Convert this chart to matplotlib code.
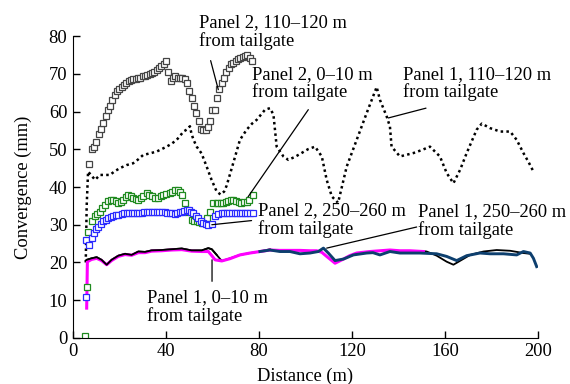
import numpy as np
import matplotlib
matplotlib.use('Agg')
import matplotlib.pyplot as plt

plt.rcParams['font.family'] = ['Liberation Serif', 'DejaVu Serif']
plt.rcParams['font.size'] = 13

# Panel 2, 110-120 m (grey squares)
p2_110_x = [6.9, 8, 9, 10, 11, 12, 13, 14, 15, 16, 17, 18, 19, 20, 21, 22, 23, 24, 25, 26,
            27, 28, 29, 30, 31, 32, 33, 34, 35, 36, 37, 38, 39, 40, 41, 42, 43, 44, 45, 46,
            47, 48, 49, 50, 51, 52, 53, 54, 55, 56, 57, 58, 59, 60, 61, 62, 63, 64, 65, 66,
            67, 68, 69, 70, 71, 72, 73, 74, 75, 76, 77]
p2_110_y = [46, 50, 50.5, 52, 54, 55.5, 57, 58.8, 60.5, 61.5, 63, 64.5, 65.5, 66, 66.5, 67, 67.5, 68, 68.3, 68.5,
            68.7, 69, 69, 69.3, 69.5, 69.8, 70, 70.3, 70.6, 71, 71.5, 72, 72.5, 73.5, 70.5, 68, 69, 69.3, 69, 69,
            68.8, 68.5, 67.5, 65.5, 63.5, 61.5, 59.5, 57.5, 55.5, 55, 55, 56, 57.5, 60.5, 60.3, 63.5, 66, 67.5, 69, 70.5,
            71.5, 72.5, 73, 73.5, 74, 74.3, 74.5, 74.7, 75, 74.3, 73.5]

# Panel 2, 0-10 m (green squares)
p2_0_x = [5.2, 5.9, 6.6, 8, 9.5, 10.5, 11.6, 12.7, 13.8, 15.2, 16.2, 17.3, 18.4, 19.5, 20.5, 21.6, 22.7, 23.8,
          24.9, 25.9, 27, 28.1, 29.2, 30.2, 31.7, 32.8, 33.8, 35.2, 36.7, 37.8, 38.8, 40.2, 41.7, 42.8, 43.9,
          45, 46, 47, 48.2, 49.6, 51, 52.1, 53.2, 54.2, 55.3, 56.4, 57.5, 58.9, 60.4, 61.8, 62.5, 63.6, 64.6,
          65.7, 66.8, 67.9, 69, 70.1, 71.2, 72.3, 73.4, 74.7, 75.8, 77.5]
p2_0_y = [0.6, 13.6, 28, 30.9, 32.2, 32.8, 33.5, 34.5, 35.3, 36.2, 36.5, 36.6, 36.2, 35.7, 36, 36.6, 37.3, 37.9,
          37.5, 37.1, 36.8, 36.6, 37.1, 37.7, 38.5, 38, 37.5, 37.2, 37.1, 37.5, 37.9, 38.1, 38.4, 38.8, 39.3,
          39.1, 38.8, 37.9, 35.7, 33.5, 31.3, 31, 30.9, 30.6, 30.4, 30.8, 31.7, 33.5, 35.7, 35.7, 35.7, 35.7, 35.7,
          36, 36.3, 36.5, 36.6, 36.3, 36, 35.8, 35.9, 35.9, 36.5, 37.9]

# Panel 2, 250-260 m (blue squares)
p2_250_x = [5.5, 5.6, 7, 8, 9, 10, 10.9, 12, 13, 14.1, 15.2, 16.2, 17.3, 18.4, 19.5, 20.9, 22, 23.1, 24.2,
            25.3, 26.3, 27.4, 28.4, 29.5, 30.6, 31.7, 32.8, 33.9, 35, 36.1, 37.2, 38.3, 39.4, 40.5, 41.6,
            42.7, 43.9, 44.9, 45.9, 46.7, 47.9, 49, 49.8, 50.9, 51.8, 52.9, 53.9, 54.9, 56, 57, 58.2, 59.7,
            61.1, 62.5, 64, 65.1, 66.2, 67.3, 68.4, 69.5, 70.6, 71.7, 72.8, 73.9, 75, 76.2, 77.5]
p2_250_y = [10.8, 26, 24.5, 26.5, 27.8, 29, 29.5, 30.2, 30.9, 31.3, 31.7, 32, 32.2, 32.5, 32.7, 32.9, 33, 33, 33.1,
            33.1, 33.2, 33.2, 33.2, 33.2, 33.3, 33.3, 33.4, 33.4, 33.5, 33.5, 33.5, 33.4, 33.3, 33.2, 33.2,
            33, 32.9, 33.2, 33.4, 33.5, 33.7, 33.8, 33.8, 33.5, 33.1, 32.4, 31.7, 31, 30.4, 30.1, 30, 30.1,
            32.2, 32.8, 33.1, 33.1, 33.2, 33.2, 33.1, 33.1, 33.1, 33.1, 33.1, 33.1, 33.1, 33.1, 33.1]

# Panel 1, 110-120 m (dotted black)
p1_110_x = [5.5, 5.9, 6.5, 8, 9.5, 11.6, 13.8, 15.9, 18, 20.2, 23, 25.9, 28, 30.2, 33, 36, 38, 40.3, 42.5,
            44.6, 46, 47.5, 48.9, 50.3, 51, 52, 53.2, 55.3, 57.5, 59.6, 61.8, 63.5, 65, 66.1, 68.9, 71.8, 74.7,
            77, 79, 82.6, 84.7, 86.2, 87.6, 90.5, 92.6, 95.5, 98.3, 101, 104.1, 107, 109.1, 111.3, 114,
            117.7, 122, 126.3, 130.6, 132, 134.9, 136.3, 137, 140.6, 146.4, 150, 153.5, 157.8, 160.7, 163.6,
            166.5, 169.3, 173.6, 175.8, 179.4, 183.7, 188, 190.8, 193.7, 196, 198]
p1_110_y = [20, 35, 44.1, 43, 41.9, 43.2, 43.2, 43.2, 44.2, 45, 45.8, 46.3, 47.3, 48.5, 48.9, 49.4, 50, 50.7, 51.5,
            52.5, 53.5, 54.7, 55.2, 56.1, 54, 52.3, 50.7, 48.9, 45.4, 41.9, 38.8, 38, 38.8, 40.4, 46.3, 52.5, 55.2,
            56.8, 57.8, 60.5, 60.9, 59.2, 50.7, 48.1, 47.2, 48, 49, 50, 50.7, 48.1, 41.9, 37.5, 35.8,
            45.4, 52.5, 59.6, 66.5, 63.1, 58.7, 56, 50.7, 48.1, 49, 49.8, 50.7, 48.1, 43.7, 41,
            44.6, 49, 55.2, 56.8, 55.6, 54.7, 54.7, 52.5, 49, 46.5, 44.1]

# Panel 1, 0-10 m (magenta line)
p1_0_x = [5.9, 6.2, 8, 10.2, 12.3, 14.5, 16.6, 19.5, 22.4, 25.2, 28.1, 31, 33.8, 38.1, 42.4, 46.8, 51, 55.4,
          58.2, 59.7, 61.1, 64, 67.5, 71.8, 76.1, 80.4, 84.7, 89, 93.3, 97.6, 101.9, 104.8, 107, 109.1, 112.7,
          116.3, 119, 122, 127.7, 132, 136.3, 140.6, 145, 150.7]
p1_0_y = [7.9, 20.2, 20.8, 21.1, 20.5, 19.4, 20.5, 21.6, 22.1, 21.9, 22.6, 22.6, 23, 23.1, 23.3, 23.4, 23, 22.9,
          22.9, 21.8, 20.7, 20.4, 21, 22, 22.5, 22.9, 23.3, 23.2, 23.2, 23.2, 23.1, 23.1, 22.7, 21.6, 19.8,
          20.9, 21.8, 22.5, 22.9, 23.1, 23.3, 23.1, 23.1, 22.9]

# black solid line (two visible stretches)
blk_x = [5.9, 8, 10.2, 12.3, 14.5, 16.6, 19.5, 22.4, 25.2, 28.1, 31, 33.8, 38.1, 42.4, 46.8, 51, 55.4, 58.2,
         59.7, 61.8, 64, 67.5, 71.8, 76.1, 80.4, 84.7, np.nan,
         150.7, 152.1, 156.4, 160.7, 163.6, 167.2, 170.8, 176.5, 182.2, 188, 193.7, 196.6]
blk_y = [20.7, 21.1, 21.4, 20.7, 19.4, 20.7, 21.8, 22.3, 22, 22.9, 22.8, 23.2, 23.3, 23.5, 23.7, 23.2, 23.2, 23.8,
         23.5, 22, 20.4, 21.1, 22, 22.5, 22.9, 23.5, np.nan,
         23, 22.9, 21.8, 20.2, 19.4, 20.7, 22, 22.9, 23.3, 23.1, 22.5, 22.3]

# Panel 1, 250-260 m (navy line)
p1_250_x = [80.4, 84.7, 89, 93.3, 97.6, 101.9, 105.5, 107.7, 109.8, 112.7, 116.3, 120.6, 126.3, 129, 132,
            136.3, 140.6, 145, 149.2, 156.4, 160.7, 165, 169.3, 175, 179.4, 185.1, 190.8, 193.7, 196.6, 198,
            199.4]
p1_250_y = [22.9, 23.3, 22.9, 22.9, 22.3, 22.5, 22.9, 23.8, 22.5, 20.5, 20.9, 22, 22.5, 22.6, 22, 22.9, 22.5,
            22.5, 22.5, 22.3, 21.6, 20.5, 21.8, 22.5, 22.3, 22.3, 22, 22.9, 22.5, 21.1, 18.9]

fig = plt.figure(figsize=(5.7, 3.84), dpi=100)
ax = fig.add_axes([0.128, 0.120, 0.816, 0.786])

ax.plot(p1_110_x, p1_110_y, color='black', lw=1.8, ls=(0, (1, 1.3)))
ax.plot(blk_x, blk_y, color='black', lw=1.3)
ax.plot(p1_0_x, p1_0_y, color='#ff00ff', lw=2.2)
ax.plot(blk_x[:20], blk_y[:20], color='black', lw=1.3)
ax.plot(p1_250_x, p1_250_y, color='#0d3f6e', lw=2.1)
ax.plot(p2_110_x, p2_110_y, ls='none', marker='s', ms=4.6, mfc='white', mec='#444444', mew=0.9)
ax.plot(p2_0_x, p2_0_y, ls='none', marker='s', ms=4.6, mfc='white', mec='#1f8a1f', mew=0.9)
ax.plot(p2_250_x, p2_250_y, ls='none', marker='s', ms=4.6, mfc='white', mec='#2a2aff', mew=0.9)

# labels and leader lines
labels = [
    ('Panel 2, 110\u2013120 m\nfrom tailgate', 54.3, 81.0, (59.2, 73.5), (62.5, 65.8)),
    ('Panel 2, 0\u201310 m\nfrom tailgate', 76.9, 67.4, (101.2, 60.5), (75.3, 37.4)),
    ('Panel 1, 110\u2013120 m\nfrom tailgate', 142.1, 67.4, (151.8, 60.9), (135.6, 58.3)),
    ('Panel 2, 250\u2013260 m\nfrom tailgate', 79.7, 31.3, (76.8, 31.1), (59.7, 30.0)),
    ('Panel 1, 250\u2013260 m\nfrom tailgate', 148.5, 31.0, (147.8, 29.4), (109.1, 23.8)),
    ('Panel 1, 0\u201310 m\nfrom tailgate', 31.7, 8.1, (59.8, 15.0), (59.8, 20.7)),
]
for txt, tx, ty, p0, p1 in labels:
    ax.text(tx, ty, txt, ha='left', va='center', fontsize=13.3, linespacing=1.05, clip_on=False)
    ax.annotate('', xy=p1, xytext=p0, arrowprops=dict(arrowstyle='-', lw=0.9, color='black',
                                                       shrinkA=0, shrinkB=0), annotation_clip=False)

ax.set_xlim(0, 200)
ax.set_ylim(0, 80)
ax.set_xticks(np.arange(0, 201, 40))
ax.set_yticks(np.arange(0, 81, 10))
ax.spines['top'].set_visible(False)
ax.spines['right'].set_visible(False)
ax.tick_params(direction='in', length=5, width=1, labelsize=13.3, pad=4)
ax.set_xlabel('Distance (m)', fontsize=13.3, labelpad=5)
ax.set_ylabel('Convergence (mm)', fontsize=13.3, labelpad=12)

fig.savefig('out.png', dpi=100)
